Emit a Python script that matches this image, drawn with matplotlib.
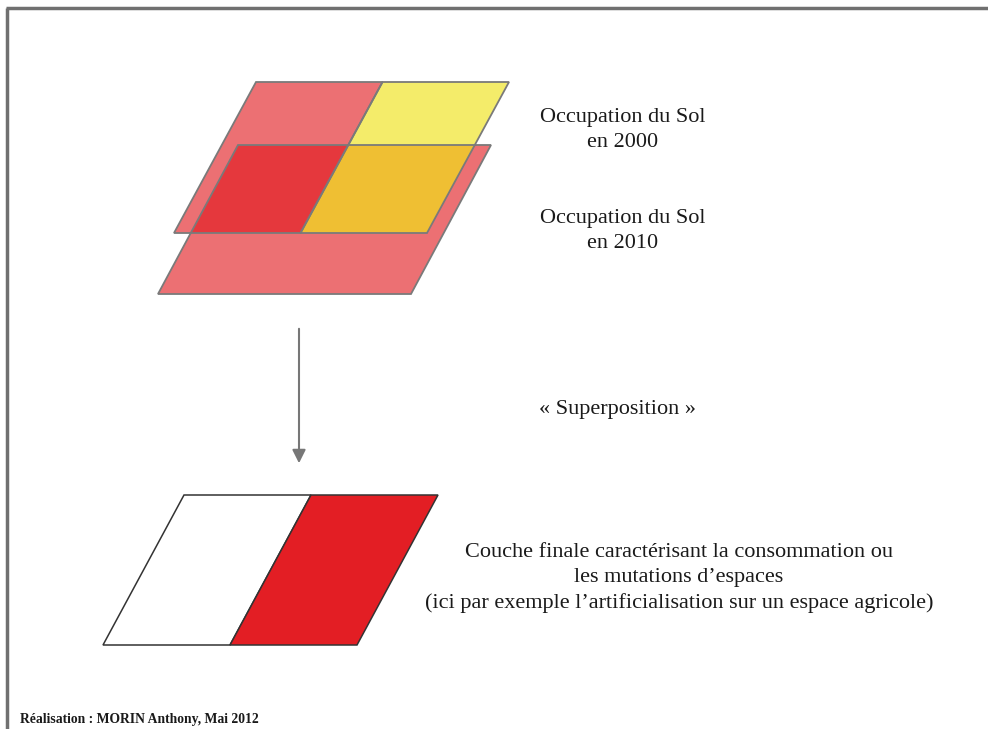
import matplotlib.pyplot as plt
from matplotlib.patches import Polygon

# layer geometry in image pixels: (bottom-left x, top y, bottom y, width, skew)
layer_2010 = (158, 145, 294, 253, 80)
layer_2000 = (174, 82, 233, 253, 82)
layer_final = (103, 495, 645, 254, 81)

# cells of each layer: (start fraction, end fraction, colour)
cells_2010 = [(0.0, 1.0, '#ec7073')]
cells_2000 = [(0.0, 0.5, '#ec7073'), (0.5, 1.0, '#f4ec6a')]
cells_overlap = [(0.0, 0.5, '#e5383d'), (0.5, 1.0, '#efbf33')]
cells_final = [(0.0, 0.5, '#ffffff'), (0.5, 1.0, '#e31e24')]

labels_right = [
    ('Occupation du Sol\nen 2000', 623, 130),
    ('Occupation du Sol\nen 2010', 623, 231),
    ('\u00ab Superposition \u00bb', 617, 409),
    ('Couche finale caract\u00e9risant la consommation ou\n'
     'les mutations d\u2019espaces\n'
     '(ici par exemple l\u2019artificialisation sur un espace agricole)',
     679, 578),
]
credit = 'R\u00e9alisation : MORIN Anthony, Mai 2012'

SERIF = ['Liberation Serif', 'DejaVu Serif']


def cell_xy(layer, f0, f1):
    x0, ytop, ybot, w, skew = layer
    return [
        (x0 + f0 * w, ybot),
        (x0 + f1 * w, ybot),
        (x0 + skew + f1 * w, ytop),
        (x0 + skew + f0 * w, ytop),
    ]


fig = plt.figure(figsize=(9.88, 7.29), dpi=100)
ax = fig.add_axes([0, 0, 1, 1])
ax.set_xlim(0, 988)
ax.set_ylim(729, 0)
ax.axis('off')

# 2010 layer underneath
for f0, f1, col in cells_2010:
    ax.add_patch(Polygon(cell_xy(layer_2010, f0, f1), closed=True,
                         facecolor=col, edgecolor='none'))
# 2000 layer on top
for f0, f1, col in cells_2000:
    ax.add_patch(Polygon(cell_xy(layer_2000, f0, f1), closed=True,
                         facecolor=col, edgecolor='none'))
# overlap of both layers, clipped to the 2010 outline
clip = Polygon(cell_xy(layer_2010, 0, 1), closed=True,
               facecolor='none', edgecolor='none')
ax.add_patch(clip)
for f0, f1, col in cells_overlap:
    p = Polygon(cell_xy(layer_2000, f0, f1), closed=True,
                facecolor=col, edgecolor='none')
    ax.add_patch(p)
    p.set_clip_path(clip)

# outlines
for layer, cells in [(layer_2010, cells_2010), (layer_2000, cells_2000)]:
    for f0, f1, _ in cells:
        ax.add_patch(Polygon(cell_xy(layer, f0, f1), closed=True,
                             facecolor='none', edgecolor='#7a7a7a', lw=1.3))

# final layer
for f0, f1, col in cells_final:
    ax.add_patch(Polygon(cell_xy(layer_final, f0, f1), closed=True,
                         facecolor=col, edgecolor='#333333', lw=1.1))

ax.annotate('', xy=(299, 466), xytext=(299, 326),
            arrowprops=dict(arrowstyle='-|>', color='#777777', lw=1.5,
                            mutation_scale=20))

for txt, x, y in labels_right:
    ax.text(x, y, txt, ha='center', va='center', fontsize=16,
            family=SERIF, color='#1a1a1a', linespacing=1.4)

ax.text(20, 719, credit, ha='left', va='center', fontsize=9.8,
        fontweight='bold', family=SERIF, color='#1a1a1a')

# frame (top and left edges of the scanned page)
ax.plot([6, 988], [8, 8], color='#707070', lw=2.5, solid_capstyle='butt')
ax.plot([7, 7], [8, 729], color='#707070', lw=2.5, solid_capstyle='butt')

fig.savefig('out.png', dpi=100)
